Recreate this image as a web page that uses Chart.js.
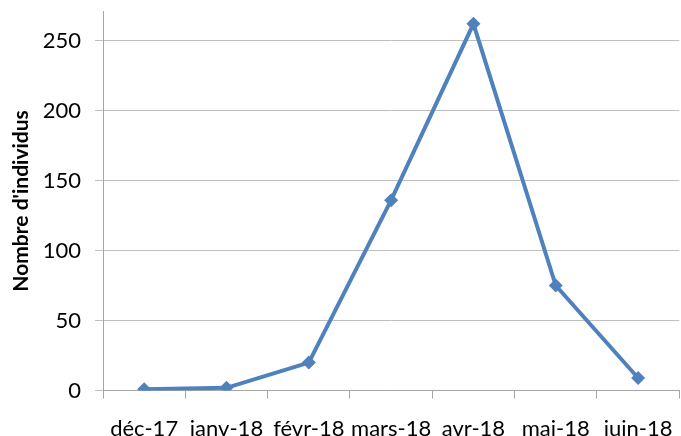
<!DOCTYPE html>
<html>
<head>
<meta charset="utf-8">
<script src="https://cdn.jsdelivr.net/npm/chart.js@4"></script>
<style>
  html, body { margin: 0; padding: 0; background: #fff; overflow: hidden; }
  #wrap { width: 681px; height: 436px; overflow: hidden; }
  #box { width: 690px; height: 475px; margin-top: -16px; }
</style>
</head>
<body>
<div id="wrap"><div id="box"><canvas id="myChart"></canvas></div></div>
<script>
const months = ['déc-17', 'janv-18', 'févr-18', 'mars-18', 'avr-18', 'mai-18', 'juin-18'];
const individus = [1, 2, 20, 136, 262, 75, 9];
const yTicks = [0, 50, 100, 150, 200, 250];

const ctx = document.getElementById('myChart');
const myChart = new Chart(ctx, {
  type: 'line',
  data: {
    labels: months,
    datasets: [{
      data: individus,
      borderColor: '#4f81bd',
      backgroundColor: '#4f81bd',
      borderWidth: 4,
      pointStyle: 'rectRot',
      pointRadius: 7,
      pointBorderWidth: 0,
      fill: false,
      tension: 0
    }]
  },
  options: {
    responsive: true,
    maintainAspectRatio: false,
    animation: false,
    layout: { padding: { left: 0, right: 6, top: 0, bottom: 0 } },
    plugins: { legend: { display: false }, tooltip: { enabled: false } },
    scales: {
      x: {
        offset: true,
        grid: { offset: true, drawOnChartArea: false, drawTicks: true, tickLength: 8, color: '#a6a6a6' },
        border: { color: '#a6a6a6', width: 1 },
        ticks: { color: '#000', font: { family: 'Lato', size: 22 }, padding: 17, maxRotation: 0, autoSkip: false }
      },
      y: {
        min: 0,
        max: 271,
        afterBuildTicks: scale => {
          scale.ticks = yTicks.map(v => ({ value: v }));
        },
        afterFit: scale => { scale.width = 103; },
        grid: { color: '#bfbfbf', tickLength: 8, lineWidth: 1 },
        border: { color: '#a6a6a6', width: 1 },
        ticks: { color: '#000', font: { family: 'Lato', size: 22 }, padding: 14 },
        title: {
          display: true,
          text: "Nombre d'individus",
          color: '#000',
          font: { family: 'Lato', size: 21, weight: 'bold' },
          padding: { top: 9, bottom: 0 }
        }
      }
    }
  }
});
</script>
</body>
</html>
